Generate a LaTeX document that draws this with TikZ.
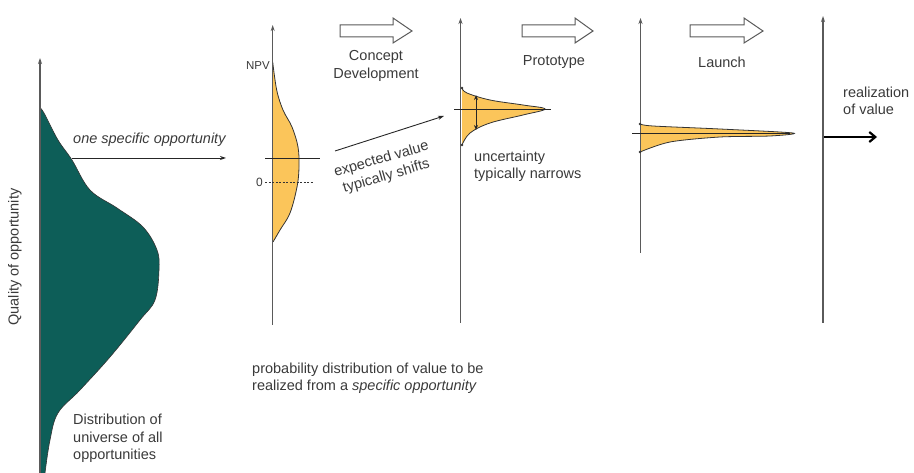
\documentclass[tikz,border=0pt]{standalone}
\usepackage{fontspec}
\setmainfont{Liberation Sans}
\usetikzlibrary{arrows.meta}
\definecolor{teal1}{HTML}{0D5E58}
\definecolor{orng}{HTML}{FBC55A}
\definecolor{axgray}{HTML}{5A5A5A}
\definecolor{txt}{HTML}{3A3A3A}
\tikzset{
  axis/.style={draw=axgray, line width=1.3pt, -{Stealth[length=6pt,width=4pt]}},
  lbl/.style={text=txt, font=\fontsize{14.5}{17.5}\selectfont, inner sep=0pt, align=left},
  dist/.style={fill=orng, draw=black!80, line width=0.8pt},
  blockarrow/.style={draw=axgray, line width=1pt, fill=white, line join=miter},
  thinarrow/.style={draw=black!85, line width=0.9pt, -{Stealth[length=6pt,width=4pt]}},
}
\begin{document}
\begin{tikzpicture}[x=1pt,y=-1pt]
\useasboundingbox (0,0) rectangle (914,473);
% ---------- left distribution ----------
\fill[teal1] (40,108) -- plot[smooth,tension=0.6] coordinates {(40,108)(44,113)(58,140)(72,160)(90,190)(117,208)(143,227)(157,250)(159,270)(155,300)(140,320)(110,357)(80,390)(58,413)(50,440)(45,473)} -- (40,473) -- cycle;
\draw[black!80,line width=0.6pt] plot[smooth,tension=0.6] coordinates {(40,108)(44,113)(58,140)(72,160)(90,190)(117,208)(143,227)(157,250)(159,270)(155,300)(140,320)(110,357)(80,390)(58,413)(50,440)(45,473)};
\coordinate (a0b) at (40,473);
\coordinate (a0t) at (40,58);
\draw[axis] (a0b) -- (a0t);
\node[lbl, rotate=90] (quality) at (15,257) {Quality of opportunity};
\node[lbl, anchor=west] (onespec) at (73,140) {\itshape one specific opportunity};
\coordinate (os1) at (72,158);
\coordinate (os2) at (226,158);
\draw[thinarrow] (os1) -- (os2);
\node[lbl, anchor=north west] (distuni) at (73,414) {Distribution of\\universe of all\\opportunities};
% ---------- NPV axis ----------
\fill[orng] (272.7,62) -- plot[smooth,tension=0.6] coordinates {(272.7,62)(276.7,90)(283,110)(292,127)(298,147)(299,167)(297,187)(290,213)(280,230)(273,242)} -- cycle;
\draw[black!80,line width=0.8pt] plot[smooth,tension=0.6] coordinates {(272.7,62)(276.7,90)(283,110)(292,127)(298,147)(299,167)(297,187)(290,213)(280,230)(273,242)};
\coordinate (a1b) at (272.7,325);
\coordinate (a1t) at (272.7,25);
\draw[axis] (a1b) -- (a1t);
\node[lbl, font=\fontsize{11.5}{13}\selectfont, anchor=east] (npv) at (270,66) {NPV};
\coordinate (ev1) at (265,158);
\coordinate (ev2) at (320,158);
\draw[black!85,line width=0.9pt] (ev1) -- (ev2);
\node[lbl, font=\fontsize{12}{13}\selectfont, anchor=east] (zero) at (263,182) {0};
\coordinate (z1) at (265,182);
\coordinate (z2) at (313,182);
\draw[black!80,line width=0.7pt,dash pattern=on 2pt off 1.5pt] (z1) -- (z2);
\coordinate (sh1) at (335,151);
\coordinate (sh2) at (444,116);
\draw[thinarrow] (sh1) -- (sh2);
\node[lbl, rotate=16, align=center] (shifts) at (384,168) {expected value\\typically shifts};
% block arrow 1
\draw[blockarrow] (340,25) -- (393,25) -- (393,18) -- (412,31) -- (393,43) -- (393,37) -- (340,37) -- cycle;
\node[lbl, align=center] (concept) at (376,66) {Concept\\Development};
% ---------- axis 2 ----------
\fill[orng] (462,88) -- plot[smooth,tension=0.6] coordinates {(462,88)(467,93)(490,100)(523,105)(545,109)(523,115)(490,123)(470,133)(462,145)} -- cycle;
\draw[black!80,line width=0.8pt] plot[smooth,tension=0.6] coordinates {(462,88)(467,93)(490,100)(523,105)(545,109)(523,115)(490,123)(470,133)(462,145)};
\coordinate (a2b) at (460.5,323);
\coordinate (a2t) at (460.5,18);
\draw[axis] (a2b) -- (a2t);
\fill[black!80] (462,88) circle (1.4pt) (462,145) circle (1.4pt);
\coordinate (h2a) at (454,109);
\coordinate (h2b) at (551,109);
\draw[black!85,line width=0.9pt] (h2a) -- (h2b);
\coordinate (u1) at (476,95);
\coordinate (u2) at (476,130);
\draw[black!85,line width=0.9pt,{Stealth[length=5pt,width=4pt]}-{Stealth[length=5pt,width=4pt]}] (u1) -- (u2);
\node[lbl, anchor=west] (narrows) at (474,166.5) {uncertainty\\typically narrows};
% block arrow 2
\draw[blockarrow] (522,25) -- (575,25) -- (575,18) -- (593,31) -- (575,43) -- (575,37) -- (522,37) -- cycle;
\node[lbl] (proto) at (554,62) {Prototype};
% ---------- axis 3 ----------
\fill[orng] (640,124) -- plot[smooth,tension=0.5] coordinates {(640,124)(653,126)(720,129)(793,133)(770,136)(720,137)(670,142)(640,152)} -- cycle;
\draw[black!80,line width=0.8pt] plot[smooth,tension=0.5] coordinates {(640,124)(653,126)(720,129)(793,133)(770,136)(720,137)(670,142)(640,152)};
\coordinate (a3b) at (640.5,253);
\coordinate (a3t) at (640.5,18);
\draw[axis] (a3b) -- (a3t);
\fill[black!80] (640,124) circle (1.4pt) (640,152) circle (1.4pt);
\coordinate (h3a) at (632,133);
\coordinate (h3b) at (790,133);
\draw[black!85,line width=0.9pt] (h3a) -- (h3b);
% block arrow 3
\draw[blockarrow] (690,25) -- (744,25) -- (744,18) -- (763,31) -- (744,43) -- (744,37) -- (690,37) -- cycle;
\node[lbl] (launch) at (722,62) {Launch};
% ---------- axis 4 ----------
\coordinate (a4b) at (823,323);
\coordinate (a4t) at (823,16);
\draw[axis] (a4b) -- (a4t);
\node[lbl, anchor=west] (real) at (843,101) {realization\\of value};
\coordinate (r1) at (824,137);
\coordinate (r2) at (877,137);
\draw[black,line width=2.2pt,-{Straight Barb[length=6pt,width=10pt]}] (r1) -- (r2);
% ---------- bottom caption ----------
\node[lbl, anchor=west] (prob) at (252,378.5) {probability distribution of value to be\\realized from a \textit{specific opportunity}};
\end{tikzpicture}
\end{document}
